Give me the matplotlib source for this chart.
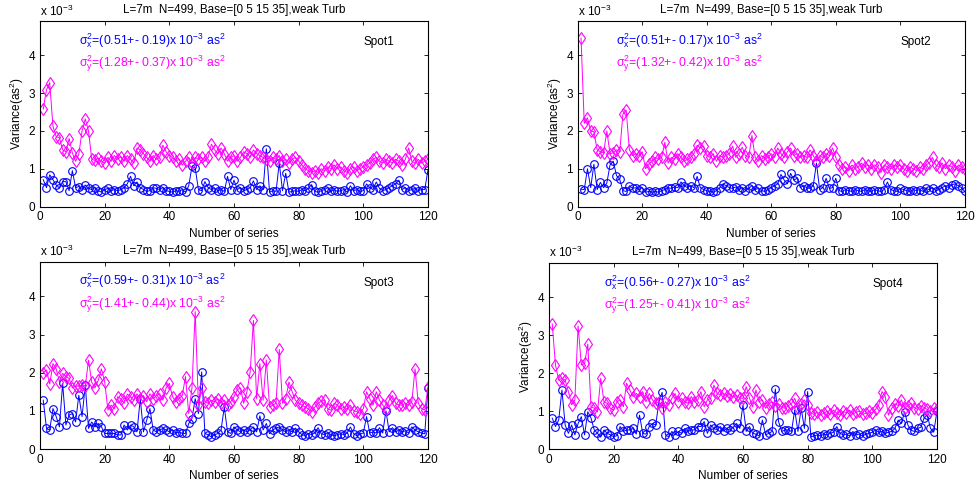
import matplotlib
matplotlib.use("Agg")
import matplotlib.pyplot as plt

plt.rcParams["font.family"] = ["Liberation Sans", "DejaVu Sans"]
plt.rcParams["mathtext.fontset"] = "custom"
plt.rcParams["mathtext.rm"] = "Liberation Sans"
plt.rcParams["mathtext.it"] = "Liberation Sans:italic"
plt.rcParams["mathtext.default"] = "regular"

n = list(range(1, 121))

# Spot1 (values in 10^-3 as^2)
s1_x = [0.71, 0.5, 0.84, 0.71, 0.57, 0.49, 0.66, 0.66, 0.42, 0.95, 0.5, 0.53, 0.45, 0.57, 0.48,
        0.45, 0.5, 0.42, 0.38, 0.45, 0.48, 0.42, 0.45, 0.42, 0.45, 0.5, 0.6, 0.8, 0.55, 0.65,
        0.5, 0.45, 0.4, 0.42, 0.5, 0.48, 0.45, 0.5, 0.42, 0.4, 0.38, 0.42, 0.4, 0.45, 0.38,
        0.55, 1.06, 1.02, 0.45, 0.42, 0.66, 0.5, 0.45, 0.48, 0.42, 0.45, 0.4, 0.8, 0.45, 0.7,
        0.45, 0.5, 0.42, 0.45, 0.5, 0.68, 0.45, 0.55, 0.45, 1.53, 0.38, 0.42, 0.4, 1.15, 0.42,
        0.88, 0.38, 0.4, 0.42, 0.4, 0.45, 0.42, 0.48, 0.58, 0.4, 0.38, 0.42, 0.45, 0.5, 0.4,
        0.45, 0.4, 0.42, 0.45, 0.38, 0.55, 0.42, 0.45, 0.4, 0.42, 0.6, 0.5, 0.45, 0.65, 0.48,
        0.42, 0.45, 0.5, 0.55, 0.6, 0.7, 0.45, 0.5, 0.42, 0.45, 0.48, 0.42, 0.45, 0.45, 0.97]
s1_y = [2.58, 3.09, 3.28, 2.12, 1.85, 1.82, 1.5, 1.45, 1.8, 1.42,
        1.2, 1.38, 2.0, 2.32, 2.0, 1.25, 1.22, 1.28, 1.2, 1.15,
        1.3, 1.2, 1.35, 1.25, 1.32, 1.2, 1.35, 1.25, 1.15, 1.55,
        1.5, 1.4, 1.3, 1.2, 1.35, 1.25, 1.3, 1.62, 1.45, 1.35,
        1.3, 1.2, 1.25, 1.1, 1.2, 1.3, 1.15, 1.3, 1.25, 1.3,
        1.2, 1.3, 1.65, 1.5, 1.4, 1.55, 1.4, 1.2, 1.3, 1.35,
        1.2, 1.3, 1.45, 1.4, 1.3, 1.5, 1.4, 1.35, 1.3, 1.25,
        1.2, 1.3, 1.25, 1.35, 1.2, 1.25, 1.15, 1.25, 1.3, 1.2,
        1.1, 1.0, 0.95, 0.9, 0.95, 0.9, 1.0, 0.95, 1.05, 1.0,
        1.1, 1.0, 1.05, 0.95, 0.9, 1.0, 1.05, 0.95, 1.0, 1.05,
        1.1, 1.15, 1.25, 1.3, 1.2, 1.15, 1.25, 1.2, 1.15, 1.25,
        1.2, 1.1, 1.25, 1.55, 1.2, 1.15, 1.25, 1.15, 1.2, 1.25]

# Spot2
s2_x = [0.46, 0.45, 1.0, 0.5, 1.12, 0.45, 0.64, 0.5, 0.62, 1.1, 1.2, 0.82, 0.72, 0.42, 0.4,
        0.55, 0.48, 0.5, 0.45, 0.5, 0.38, 0.4, 0.38, 0.4, 0.38, 0.42, 0.45, 0.5, 0.48, 0.52,
        0.5, 0.65, 0.55, 0.5, 0.55, 0.5, 0.8, 0.5, 0.45, 0.42, 0.4, 0.38, 0.42, 0.5, 0.6,
        0.55, 0.5, 0.48, 0.52, 0.45, 0.5, 0.42, 0.48, 0.55, 0.45, 0.48, 0.42, 0.4, 0.45, 0.5,
        0.55, 0.6, 0.85, 0.7, 0.6, 0.88, 0.7, 0.75, 0.5, 0.55, 0.5, 0.48, 0.55, 1.15, 0.45,
        0.5, 0.75, 0.48, 0.5, 0.75, 0.42, 0.4, 0.45, 0.42, 0.4, 0.45, 0.42, 0.4, 0.45, 0.42,
        0.4, 0.45, 0.42, 0.4, 0.45, 0.65, 0.45, 0.42, 0.4, 0.48, 0.45, 0.42, 0.4, 0.45, 0.42,
        0.45, 0.4, 0.48, 0.45, 0.5, 0.42, 0.45, 0.5, 0.55, 0.5, 0.58, 0.6, 0.55, 0.5, 0.4]
s2_y = [4.46, 2.2, 2.35, 2.0, 1.98, 1.5, 1.45, 1.42, 2.0, 1.4, 1.42, 1.5, 1.45, 2.45, 2.55,
        1.5, 1.35, 1.4, 1.35, 1.45, 1.0, 1.12, 1.2, 1.3, 1.25, 1.3, 1.7, 1.15, 1.3, 1.25,
        1.4, 1.3, 1.2, 1.25, 1.3, 1.4, 1.62, 1.55, 1.6, 1.35, 1.3, 1.4, 1.2, 1.35, 1.3,
        1.35, 1.4, 1.6, 1.3, 1.4, 1.57, 1.35, 1.3, 1.88, 1.3, 1.2, 1.35, 1.25, 1.3, 1.4,
        1.3, 1.55, 1.4, 1.3, 1.45, 1.55, 1.35, 1.4, 1.3, 1.35, 1.3, 1.5, 1.35, 1.2, 1.35,
        1.3, 1.4, 1.35, 1.55, 1.3, 1.1, 1.0, 1.05, 0.95, 1.1, 1.0, 1.05, 1.15, 1.05, 1.1,
        1.0, 1.1, 1.05, 0.9, 1.1, 1.05, 1.0, 1.1, 1.05, 1.1, 1.0, 0.95, 1.05, 1.0, 0.95,
        1.05, 1.0, 1.1, 1.15, 1.3, 1.1, 1.05, 1.15, 1.0, 1.1, 1.05, 0.95, 1.1, 1.05, 1.0]

# Spot3
s3_x = [1.28, 0.54, 0.5, 1.06, 0.85, 0.58, 1.72, 0.63, 0.89, 0.93,
        0.71, 1.41, 0.85, 1.67, 0.54, 0.71, 0.58, 0.67, 0.58, 0.41,
        0.41, 0.41, 0.41, 0.37, 0.37, 0.63, 0.5, 0.63, 0.58, 0.45,
        1.32, 0.45, 0.76, 1.06, 0.5, 0.45, 0.5, 0.54, 0.5, 0.45,
        0.5, 0.41, 0.45, 0.41, 0.41, 0.67, 0.8, 1.32, 0.93, 2.02,
        0.41, 0.37, 0.32, 0.37, 0.41, 0.5, 1.1, 0.45, 0.41, 0.58,
        0.5, 0.45, 0.5, 0.45, 0.5, 0.58, 0.45, 0.87, 0.5, 0.67,
        0.4, 0.5, 0.55, 0.58, 0.5, 0.45, 0.5, 0.45, 0.55, 0.45,
        0.38, 0.35, 0.4, 0.38, 0.42, 0.56, 0.4, 0.38, 0.42, 0.38,
        0.35, 0.38, 0.4, 0.38, 0.42, 0.58, 0.4, 0.35, 0.4, 0.42,
        0.85, 0.42, 0.45, 0.42, 0.56, 0.42, 1.0, 0.45, 0.56, 0.45,
        0.5, 0.45, 0.48, 0.42, 0.58, 0.5, 0.45, 0.42, 0.4, 1.6]
s3_y = [2.0, 2.07, 1.7, 2.24, 2.1, 1.76, 1.98, 1.9, 1.85, 1.6,
        1.65, 1.65, 1.67, 1.65, 2.33, 1.75, 1.6, 1.8, 2.1, 1.76,
        1.02, 1.15, 1.06, 1.37, 1.32, 1.2, 1.44, 1.37, 1.28, 1.45,
        1.32, 1.4, 1.24, 1.45, 1.32, 1.4, 1.45, 1.28, 1.6, 1.72,
        1.37, 1.24, 1.32, 1.4, 1.9, 0.93, 1.6, 3.6, 1.15, 1.6,
        1.24, 1.2, 1.28, 1.24, 1.32, 1.2, 1.28, 1.15, 1.24, 1.37,
        1.55, 1.6, 1.2, 1.5, 2.02, 3.37, 1.32, 2.24, 1.28, 2.33,
        1.1, 1.15, 1.2, 2.61, 1.2, 1.32, 1.76, 1.5, 1.28, 1.2,
        1.15, 1.1, 1.05, 0.98, 1.1, 1.2, 1.25, 1.28, 1.05, 1.02,
        1.2, 1.15, 1.05, 1.1, 1.05, 1.15, 1.0, 0.98, 0.93, 1.06,
        1.5, 1.32, 1.15, 1.5, 1.28, 1.15, 1.06, 1.28, 1.4, 1.2,
        1.15, 1.15, 1.2, 1.15, 1.24, 2.1, 1.2, 1.06, 1.02, 1.63]

# Spot4
s4_x = [0.82, 0.6, 0.77, 1.56, 0.64, 0.42, 0.64, 0.38, 0.68, 0.86,
        0.38, 0.99, 0.82, 0.51, 0.42, 0.32, 0.51, 0.42, 0.38, 0.33,
        0.36, 0.6, 0.47, 0.51, 0.51, 0.55, 0.4, 0.9, 0.42, 0.4,
        0.6, 0.68, 0.64, 1.25, 1.5, 0.38, 0.33, 0.47, 0.38, 0.47,
        0.42, 0.55, 0.47, 0.51, 0.51, 0.6, 0.6, 0.73, 0.42, 0.64,
        0.55, 0.51, 0.6, 0.48, 0.55, 0.5, 0.58, 0.68, 0.55, 1.17,
        0.47, 0.6, 0.42, 0.4, 0.35, 0.77, 0.38, 0.42, 0.47, 1.59,
        0.73, 0.47, 0.51, 0.51, 0.47, 1.03, 0.47, 1.08, 0.55, 1.52,
        0.33, 0.35, 0.38, 0.35, 0.4, 0.38, 0.42, 0.45, 0.6, 0.42,
        0.38, 0.4, 0.35, 0.47, 0.38, 0.4, 0.35, 0.4, 0.42, 0.45,
        0.51, 0.45, 0.47, 0.42, 0.45, 0.47, 0.55, 0.77, 0.68, 0.99,
        0.64, 0.5, 0.47, 0.55, 0.58, 0.82, 0.9, 0.55, 0.45, 1.0]
s4_y = [3.3, 2.22, 1.82, 1.87, 1.82, 1.52, 1.17, 1.3, 3.25, 2.22,
        2.26, 2.77, 1.12, 1.08, 0.99, 1.87, 1.25, 1.21, 1.08, 1.03,
        1.25, 1.3, 1.12, 1.74, 1.56, 1.39, 1.47, 1.39, 1.52, 1.25,
        1.47, 1.3, 1.21, 1.25, 1.08, 1.25, 1.17, 1.34, 1.47, 1.25,
        1.34, 1.25, 1.21, 1.39, 1.25, 1.3, 1.52, 1.12, 1.3, 1.34,
        1.69, 1.47, 1.43, 1.47, 1.4, 1.45, 1.38, 1.42, 1.35, 1.34,
        1.65, 1.35, 1.12, 1.56, 1.25, 1.3, 1.08, 1.2, 1.25, 1.15,
        1.2, 1.1, 1.08, 1.15, 1.2, 1.34, 1.08, 1.2, 1.3, 1.17,
        0.95, 0.92, 0.98, 0.9, 0.95, 1.0, 0.92, 1.03, 0.95, 0.9,
        1.0, 0.95, 1.03, 0.92, 0.98, 1.0, 0.92, 0.95, 1.0, 0.95,
        1.05, 1.17, 1.52, 1.39, 0.9, 1.08, 1.2, 1.15, 1.3, 1.08,
        1.15, 1.21, 1.1, 1.05, 1.15, 1.1, 1.05, 1.0, 1.08, 1.05]

spots = ["Spot1", "Spot2", "Spot3", "Spot4"]
xs = [s1_x, s2_x, s3_x, s4_x]
ys = [s1_y, s2_y, s3_y, s4_y]
stat_x = ["(0.51+- 0.19)", "(0.51+- 0.17)", "(0.59+- 0.31)", "(0.56+- 0.27)"]
stat_y = ["(1.28+- 0.37)", "(1.32+- 0.42)", "(1.41+- 0.44)", "(1.25+- 0.41)"]
title = "L=7m  N=499, Base=[0 5 15 35],weak Turb"

# axes boxes in figure fractions
boxes = [[0.041, 0.575, 0.3975, 0.381],
         [0.592, 0.575, 0.3965, 0.381],
         [0.041, 0.076, 0.3975, 0.385],
         [0.5625, 0.0755, 0.3975, 0.383]]
text_x = [12, 12, 12, 17]
has_ylabel = [True, True, False, True]

blue = "#0000ff"
magenta = "#ff00ff"

fig = plt.figure(figsize=(9.76, 4.86), dpi=100)

for i in range(4):
    ax = fig.add_axes(boxes[i])
    ax.plot(n, xs[i], "-o", color=blue, mfc="none", ms=5.5, mew=0.8, lw=0.7)
    ax.plot(n, ys[i], "-d", color=magenta, mfc="none", ms=6, mew=0.8, lw=0.7)
    ax.set_xlim(0, 120)
    ax.set_ylim(0, 4.9)
    ax.set_xticks(range(0, 121, 20))
    ax.set_yticks([0, 1, 2, 3, 4])
    ax.tick_params(direction="in", top=True, right=True, length=3, labelsize=8.5, width=0.6)
    for sp in ax.spines.values():
        sp.set_linewidth(0.8)
    ax.set_title(title, fontsize=8.4, pad=6)
    ax.set_xlabel("Number of series", fontsize=8.5, labelpad=3)
    if has_ylabel[i]:
        ax.set_ylabel("Variance(as$^2$)", fontsize=8.5, labelpad=2)
    ax.text(0, 1.015, "x 10$^{-3}$", transform=ax.transAxes, fontsize=8.5, ha="left", va="bottom")
    ax.text(text_x[i], 4.4, r"$\sigma^2_x$=" + stat_x[i] + "x 10$^{-3}$ as$^2$",
            color=blue, fontsize=8.8, va="center")
    ax.text(text_x[i], 3.78, r"$\sigma^2_y$=" + stat_y[i] + "x 10$^{-3}$ as$^2$",
            color=magenta, fontsize=8.8, va="center")
    ax.text(100, 4.35, spots[i], fontsize=8.5, va="center")

fig.savefig("out.png", dpi=100)
